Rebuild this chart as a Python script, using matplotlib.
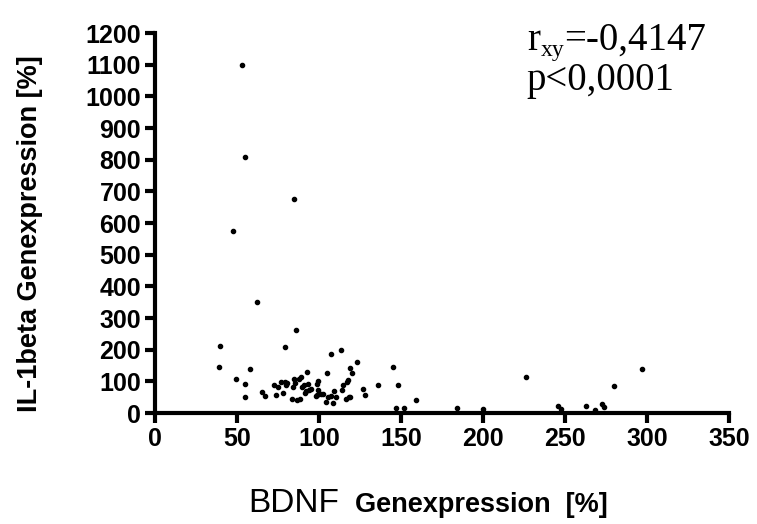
import matplotlib
matplotlib.use("Agg")
import matplotlib.pyplot as plt
import numpy as np

# BDNF vs IL-1beta gene expression
bdnf = [52.9, 55, 84.8, 47.4, 62.2, 86.2,
        39.8, 39, 49.6, 54.7, 54.9, 58, 65.4, 67, 72.6, 73.8, 74.8, 77, 78.3,
        79, 79.3, 80, 80.7, 83.3, 84, 85, 85.4, 86.4, 88, 88.6, 88.8, 89.6,
        90.6, 91.5, 92, 92.5, 93, 94, 95.3, 98, 98.6, 99.2, 99.6, 99, 101,
        102.2, 104.5, 104.7, 105.7, 107, 107.5, 108.3, 109, 110.4, 113.4,
        114.2, 114.6, 116.5, 117, 118, 119, 118.7, 117.7, 120, 123, 127, 128,
        135.8, 145, 148.4, 147, 152, 159, 184, 200, 226, 246, 247.6, 263, 268,
        272.7, 273.8, 279.7, 296.8]
il1b = [1100, 810, 675, 575, 350, 262,
        211, 145, 108, 92, 50, 138, 65, 55, 90, 58, 81, 98, 64,
        208, 98, 90, 96, 45, 82, 106, 96, 41, 106, 43, 114, 82,
        90, 64, 70, 130, 92, 73, 77, 54, 91, 102, 73, 58, 60,
        60, 35, 125, 50, 54, 187, 33, 69, 50, 198,
        73, 90, 45, 98, 50, 50, 143, 104, 125, 160, 77, 58,
        88, 146, 87, 16, 16, 41, 16, 13, 115, 22, 13, 22, 9,
        28, 20, 85, 140]

x_ticks = np.arange(0, 351, 50)
y_ticks = np.arange(0, 1201, 100)

sans = ["Liberation Sans", "DejaVu Sans"]
serif = ["Liberation Serif", "DejaVu Serif"]

fig = plt.figure(figsize=(7.57, 5.24), dpi=100)
ax = fig.add_axes([0.2048, 0.2118, 0.7582, 0.7252])

ax.plot(bdnf, il1b, "o", color="black", markersize=3, clip_on=False)

ax.set_xlim(0, 350)
ax.set_ylim(0, 1200)
ax.set_xticks(x_ticks)
ax.set_yticks(y_ticks)

for side in ["top", "right"]:
    ax.spines[side].set_visible(False)
for side in ["left", "bottom"]:
    ax.spines[side].set_linewidth(3)
ax.tick_params(width=3, length=7, direction="out", pad=3)

for lab in ax.get_xticklabels() + ax.get_yticklabels():
    lab.set_family(sans)
    lab.set_fontweight("bold")
    lab.set_fontsize(18)

fig.text(0.04, 0.555, "IL-1beta Genexpression [%]", rotation=90,
         ha="center", va="center", fontsize=19.5, fontweight="bold",
         family=sans)

fig.text(0.328, 0.023, "BDNF", ha="left", va="baseline", fontsize=24,
         family=sans)
fig.text(0.469, 0.023, "Genexpression  [%]", ha="left", va="baseline",
         fontsize=19.5, fontweight="bold", family=sans)

# correlation annotation: r, small subscript, then the value
fig.text(0.696, 0.905, "r", fontsize=28, family=serif,
         ha="left", va="baseline")
fig.text(0.714, 0.893, "xy", fontsize=17, family=serif,
         ha="left", va="baseline")
fig.text(0.745, 0.905, "=-0,4147", fontsize=28, family=serif,
         ha="left", va="baseline")
fig.text(0.696, 0.828, "p<0,0001", fontsize=28, family=serif,
         ha="left", va="baseline")

fig.savefig("out.png", dpi=100)
plt.close(fig)
